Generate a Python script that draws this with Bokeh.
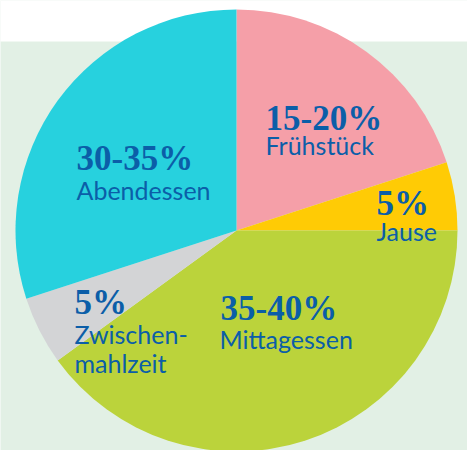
import math
from bokeh.plotting import figure
from bokeh.models import Range1d, ColumnDataSource
from bokeh.core.properties import value
from bokeh.embed import file_html
from bokeh.resources import INLINE

# data
meals = ["Frühstück", "Jause", "Mittagessen", "Zwischenmahlzeit", "Abendessen"]
shares = [20, 5, 40, 5, 30]
pct_labels = ["15-20%", "5%", "35-40%", "5%", "30-35%"]
name_labels = [["Frühstück"], ["Jause"], ["Mittagessen"], ["Zwischen-", "mahlzeit"], ["Abendessen"]]
colors = ["#f59fa8", "#ffcb05", "#bbd33b", "#d3d4d6", "#27d1de"]

W, H = 467, 450
p = figure(width=W, height=H, output_backend="svg", toolbar_location=None,
           x_range=Range1d(0, W), y_range=Range1d(0, H), min_border=0,
           x_axis_type=None, y_axis_type=None)
p.grid.visible = False
p.outline_line_color = None
p.background_fill_color = "#e2f0e5"
p.border_fill_color = "#e2f0e5"

# white band at top
p.quad(left=-10, right=W + 10, bottom=H - 41, top=H + 10, fill_color="white", line_color=None)

cx, cy, r = 236, H - 230, 221
total = sum(shares)
starts, ends = [], []
cum = 0
for s in shares:
    starts.append(math.pi / 2 - cum / total * 2 * math.pi)
    cum += s
    ends.append(math.pi / 2 - cum / total * 2 * math.pi)

src = ColumnDataSource(dict(start=starts, end=ends, color=colors, meal=meals))
p.wedge(x=cx, y=cy, radius=r, start_angle="start", end_angle="end",
        direction="clock", fill_color="color", line_color=None, source=src)

# label layout (pixel positions of text baselines)
shift = 10
pct_pos = [(265, 128), (376, 213), (220, 318), (74, 312), (76, 168)]
name_pos = [(265, 154), (376, 240), (219, 348), (74, 343), (76, 199)]
line_gap = 29

txt_color = "#0b5ea8"
for (x, y), t in zip(pct_pos, pct_labels):
    p.text(x=[x], y=[H - y + shift], text=[t], text_font=value("Liberation Serif"),
           text_font_style="bold", text_font_size="35px", text_color=txt_color,
           text_baseline="alphabetic", text_align="left")
for (x, y), lines in zip(name_pos, name_labels):
    for i, t in enumerate(lines):
        p.text(x=[x], y=[H - y - i * line_gap + shift], text=[t], text_font=value("Lato"),
               text_font_size="25px", text_color=txt_color,
               text_baseline="alphabetic", text_align="left")

open("out.html", "w").write(file_html(p, INLINE))
